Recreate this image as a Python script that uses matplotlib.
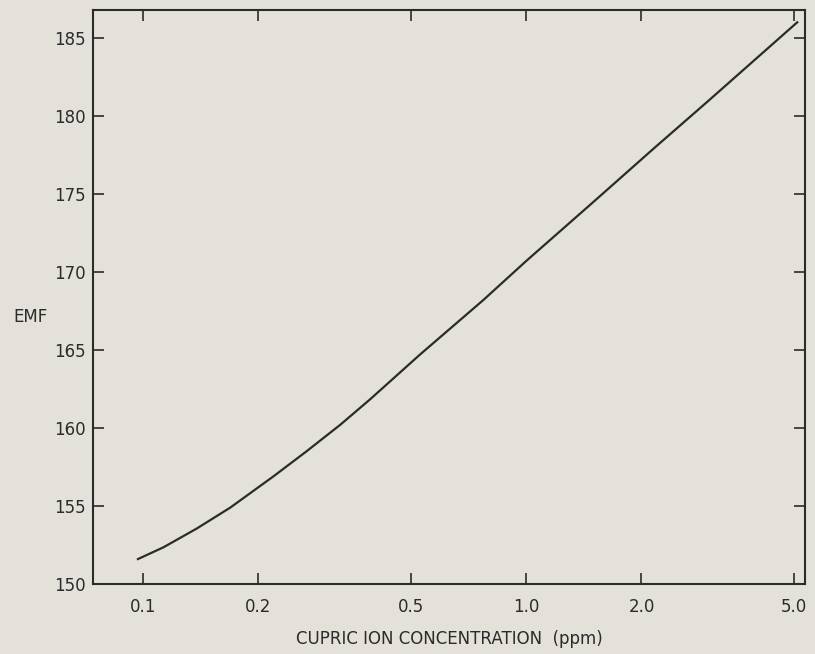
import numpy as np
import matplotlib
matplotlib.use("Agg")
import matplotlib.pyplot as plt

# values
conc = [0.097, 0.113, 0.138, 0.169, 0.219, 0.267, 0.327, 0.392, 0.528, 0.773, 1.0, 1.5, 2.15, 3.0, 5.1]
emf = [151.6, 152.35, 153.55, 154.9, 156.9, 158.5, 160.2, 161.85, 164.7, 168.2, 170.7, 174.5, 177.9, 181.0, 186.0]

xticks = [0.1, 0.2, 0.5, 1.0, 2.0, 5.0]
xticklabels = ["0.1", "0.2", "0.5", "1.0", "2.0", "5.0"]
yticks = [150, 155, 160, 165, 170, 175, 180, 185]

bg = "#e4e0da"
ink = "#2b2b2b"

fig = plt.figure(figsize=(8.15, 6.54), dpi=100, facecolor=bg)
ax = fig.add_axes([0.114, 0.107, 0.874, 0.878], facecolor=bg)

ax.plot(conc, emf, color=ink, lw=1.6, solid_joinstyle="round")

ax.set_xscale("log")
ax.set_xlim(0.074, 5.35)
ax.set_ylim(150, 186.8)
ax.set_xticks(xticks)
ax.set_xticklabels(xticklabels)
ax.minorticks_off()
ax.set_yticks(yticks)

ax.tick_params(axis="both", direction="in", length=8, width=1.2, color=ink,
               labelcolor=ink, labelsize=12, top=True, right=True)
ax.tick_params(axis="x", pad=10)
ax.tick_params(axis="y", pad=5)
for s in ax.spines.values():
    s.set_color(ink)
    s.set_linewidth(1.5)

ax.set_xlabel("CUPRIC ION CONCENTRATION  (ppm)", fontsize=12, color=ink, labelpad=10)
fig.text(13 / 815, 1 - 317 / 654, "EMF", fontsize=12, color=ink, ha="left", va="center")

fig.savefig("out.png", dpi=100, facecolor=bg)
